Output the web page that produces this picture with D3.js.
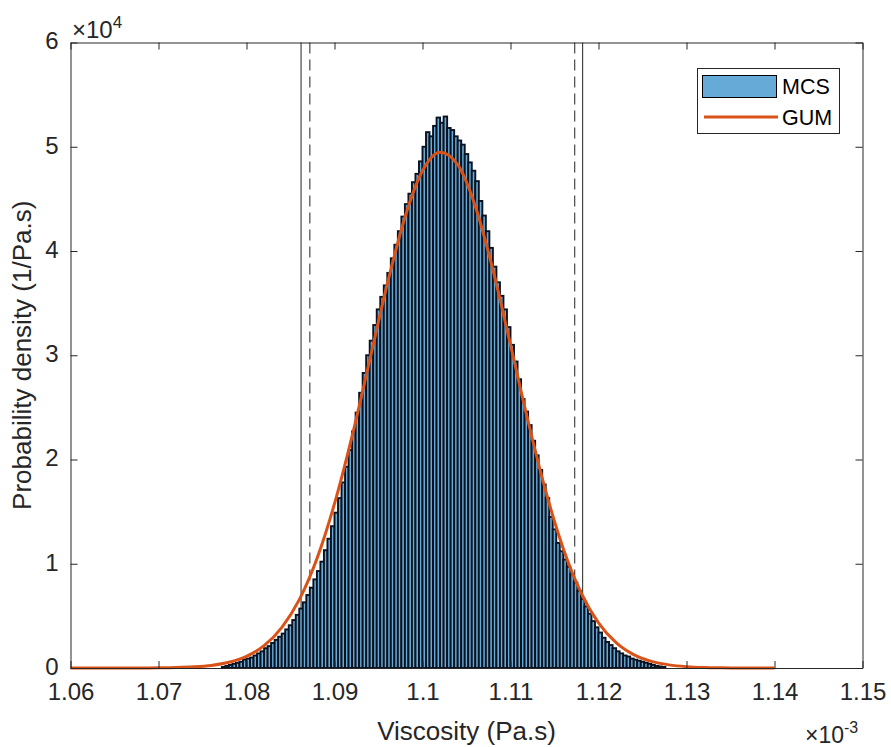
<!DOCTYPE html>
<html>
<head>
<meta charset="utf-8">
<script src="https://cdn.jsdelivr.net/npm/d3@7"></script>
<style>
  body { margin: 0; background: #fff; }
  svg { font-family: "Liberation Sans", Arial, sans-serif; }
</style>
</head>
<body>
<svg id="chart" width="891" height="747"></svg>
<script>
// Data (x in units of 1e-3 Pa.s, y in units of 1e4 1/(Pa.s))
const xTicks = [1.06, 1.07, 1.08, 1.09, 1.10, 1.11, 1.12, 1.13, 1.14, 1.15];
const yTicks = [0, 1, 2, 3, 4, 5, 6];

// MCS histogram, bin edges start at binStart with constant width
const binStart = 1.0772;
const binWidth = 0.0004;
const mcsDensity = [
  0.01, 0.02, 0.03, 0.04, 0.05, 0.06, 0.08, 0.09, 0.10, 0.12,
  0.14, 0.16, 0.19, 0.21, 0.24, 0.27, 0.30, 0.33, 0.37, 0.41,
  0.46, 0.51, 0.57, 0.63, 0.70, 0.77, 0.85, 0.93, 1.02, 1.13,
  1.24, 1.36, 1.49, 1.63, 1.78, 1.93, 2.09, 2.27, 2.45, 2.64,
  2.83, 3.00, 3.14, 3.29, 3.44, 3.56, 3.67, 3.79, 3.93, 4.06,
  4.19, 4.33, 4.45, 4.55, 4.66, 4.74, 4.86, 5.00, 5.14, 5.10,
  5.20, 5.28, 5.23, 5.29, 5.18, 5.16, 5.10, 5.06, 5.02, 4.93,
  4.85, 4.77, 4.67, 4.48, 4.34, 4.19, 4.03, 3.85, 3.70, 3.57,
  3.44, 3.27, 3.10, 2.94, 2.77, 2.58, 2.46, 2.33, 2.18, 2.04,
  1.90, 1.76, 1.63, 1.45, 1.33, 1.20, 1.12, 1.04, 0.97, 0.90,
  0.82, 0.74, 0.66, 0.59, 0.52, 0.45, 0.39, 0.34, 0.29, 0.25,
  0.22, 0.19, 0.16, 0.14, 0.12, 0.11, 0.09, 0.08, 0.07, 0.06,
  0.05, 0.04, 0.03, 0.02, 0.015, 0.01
];

// GUM curve
const gumX = [
  1.060, 1.062, 1.064, 1.066, 1.068, 1.070, 1.072, 1.074, 1.076, 1.078,
  1.080, 1.082, 1.084, 1.086, 1.088, 1.090, 1.092, 1.094, 1.096, 1.098,
  1.100, 1.102, 1.104, 1.106, 1.108, 1.110, 1.112, 1.114, 1.116, 1.118,
  1.120, 1.122, 1.124, 1.126, 1.128, 1.130, 1.132, 1.134, 1.136, 1.138, 1.140
];
const gumY = [
  0.0, 0.0, 0.0001, 0.0002, 0.0006, 0.0017, 0.0044, 0.011, 0.025, 0.055,
  0.112, 0.214, 0.388, 0.656, 1.048, 1.576, 2.224, 2.952, 3.684, 4.322,
  4.769, 4.948, 4.828, 4.430, 3.821, 3.100, 2.367, 1.698, 1.145, 0.726,
  0.433, 0.243, 0.128, 0.063, 0.030, 0.013, 0.005, 0.002, 0.0008, 0.0003, 0.0001
];

// Coverage interval limits
const solidLimits = [1.0862, 1.1182];
const dashedLimits = [1.0872, 1.1173];

const legendItems = ["MCS", "GUM"];

// Layout
const svg = d3.select("#chart");
const margin = { left: 70.5, right: 862.5, top: 42.5, bottom: 668 };
const axisColor = "#262626";
const barFill = "rgb(102,170,215)";
const gumColor = "#D95319";

const x = d3.scaleLinear().domain([1.06, 1.15]).range([margin.left, margin.right]);
const y = d3.scaleLinear().domain([0, 6]).range([margin.bottom, margin.top]);

// Vertical interval lines (behind the histogram)
svg.selectAll("line.solid")
  .data(solidLimits)
  .enter()
  .append("line")
  .attr("class", "solid")
  .attr("x1", d => x(d)).attr("x2", d => x(d))
  .attr("y1", y(6)).attr("y2", y(0))
  .attr("stroke", "#222")
  .attr("stroke-width", 1);

svg.selectAll("line.dashed")
  .data(dashedLimits)
  .enter()
  .append("line")
  .attr("class", "dashed")
  .attr("x1", d => x(d)).attr("x2", d => x(d))
  .attr("y1", y(6)).attr("y2", y(0))
  .attr("stroke", "#222")
  .attr("stroke-width", 1)
  .attr("stroke-dasharray", "11,6");

// Histogram bars
svg.append("g")
  .selectAll("rect")
  .data(mcsDensity)
  .enter()
  .append("rect")
  .attr("x", (d, i) => x(binStart + i * binWidth))
  .attr("width", (d, i) => x(binStart + (i + 1) * binWidth) - x(binStart + i * binWidth))
  .attr("y", d => y(d))
  .attr("height", d => y(0) - y(d))
  .attr("fill", barFill)
  .attr("stroke", "#0a1220")
  .attr("stroke-width", 1.9);

// GUM curve
const gumPoints = gumX.map((v, i) => [v, gumY[i]]);
svg.append("path")
  .datum(gumPoints)
  .attr("fill", "none")
  .attr("stroke", gumColor)
  .attr("stroke-width", 3)
  .attr("d", d3.line().x(d => x(d[0])).y(d => y(d[1])).curve(d3.curveMonotoneX));

// Axes
const fmt = d3.format("~g");
const tickLen = 7;

const gx = svg.append("g")
  .attr("transform", `translate(0,${margin.bottom})`)
  .call(d3.axisBottom(x).tickValues(xTicks).tickFormat(fmt)
    .tickSizeInner(-tickLen).tickSizeOuter(0).tickPadding(15));

const gxTop = svg.append("g")
  .attr("transform", `translate(0,${margin.top})`)
  .call(d3.axisTop(x).tickValues(xTicks).tickFormat("")
    .tickSizeInner(-tickLen).tickSizeOuter(0));

const gy = svg.append("g")
  .attr("transform", `translate(${margin.left},0)`)
  .call(d3.axisLeft(y).tickValues(yTicks).tickFormat(fmt)
    .tickSizeInner(-tickLen).tickSizeOuter(0).tickPadding(12));

const gyRight = svg.append("g")
  .attr("transform", `translate(${margin.right},0)`)
  .call(d3.axisRight(y).tickValues(yTicks).tickFormat("")
    .tickSizeInner(-tickLen).tickSizeOuter(0));

[gx, gxTop, gy, gyRight].forEach(g => {
  g.selectAll("path, line").attr("stroke", axisColor).attr("stroke-width", 1);
  g.selectAll("text").attr("fill", axisColor).attr("font-size", 24)
    .attr("font-family", "Liberation Sans, Arial, sans-serif");
});
// keep the 0 label clear of the x tick labels
gy.selectAll("text").attr("dy", "0.26em");

// Exponent labels
const expY = svg.append("text")
  .attr("x", 72).attr("y", 38)
  .attr("font-size", 24).attr("fill", axisColor);
expY.append("tspan").text("\u00d710");
expY.append("tspan").attr("font-size", 17).attr("dy", -10).text("4");

const expX = svg.append("text")
  .attr("x", 805).attr("y", 743)
  .attr("font-size", 23).attr("fill", axisColor);
expX.append("tspan").text("\u00d710");
expX.append("tspan").attr("font-size", 16).attr("dy", -10).text("-3");

// Axis titles
svg.append("text")
  .attr("x", (margin.left + margin.right) / 2)
  .attr("y", 740)
  .attr("text-anchor", "middle")
  .attr("font-size", 26)
  .attr("fill", axisColor)
  .text("Viscosity (Pa.s)");

svg.append("text")
  .attr("transform", `translate(31,${(margin.top + margin.bottom) / 2}) rotate(-90)`)
  .attr("text-anchor", "middle")
  .attr("font-size", 26)
  .attr("fill", axisColor)
  .text("Probability density (1/Pa.s)");

// Legend
const legend = svg.append("g");
legend.append("rect")
  .attr("x", 697.5).attr("y", 68.5)
  .attr("width", 142).attr("height", 65)
  .attr("fill", "#fff").attr("stroke", axisColor).attr("stroke-width", 1);
legend.append("rect")
  .attr("x", 702.5).attr("y", 75.5)
  .attr("width", 74).attr("height", 22)
  .attr("fill", barFill).attr("stroke", "#000").attr("stroke-width", 1);
legend.append("line")
  .attr("x1", 704).attr("x2", 778)
  .attr("y1", 117).attr("y2", 117)
  .attr("stroke", gumColor).attr("stroke-width", 3);
legend.selectAll("text")
  .data(legendItems)
  .enter()
  .append("text")
  .attr("x", 782)
  .attr("y", (d, i) => 94 + i * 31)
  .attr("font-size", 21.5)
  .attr("fill", "#000")
  .text(d => d);
</script>
</body>
</html>
